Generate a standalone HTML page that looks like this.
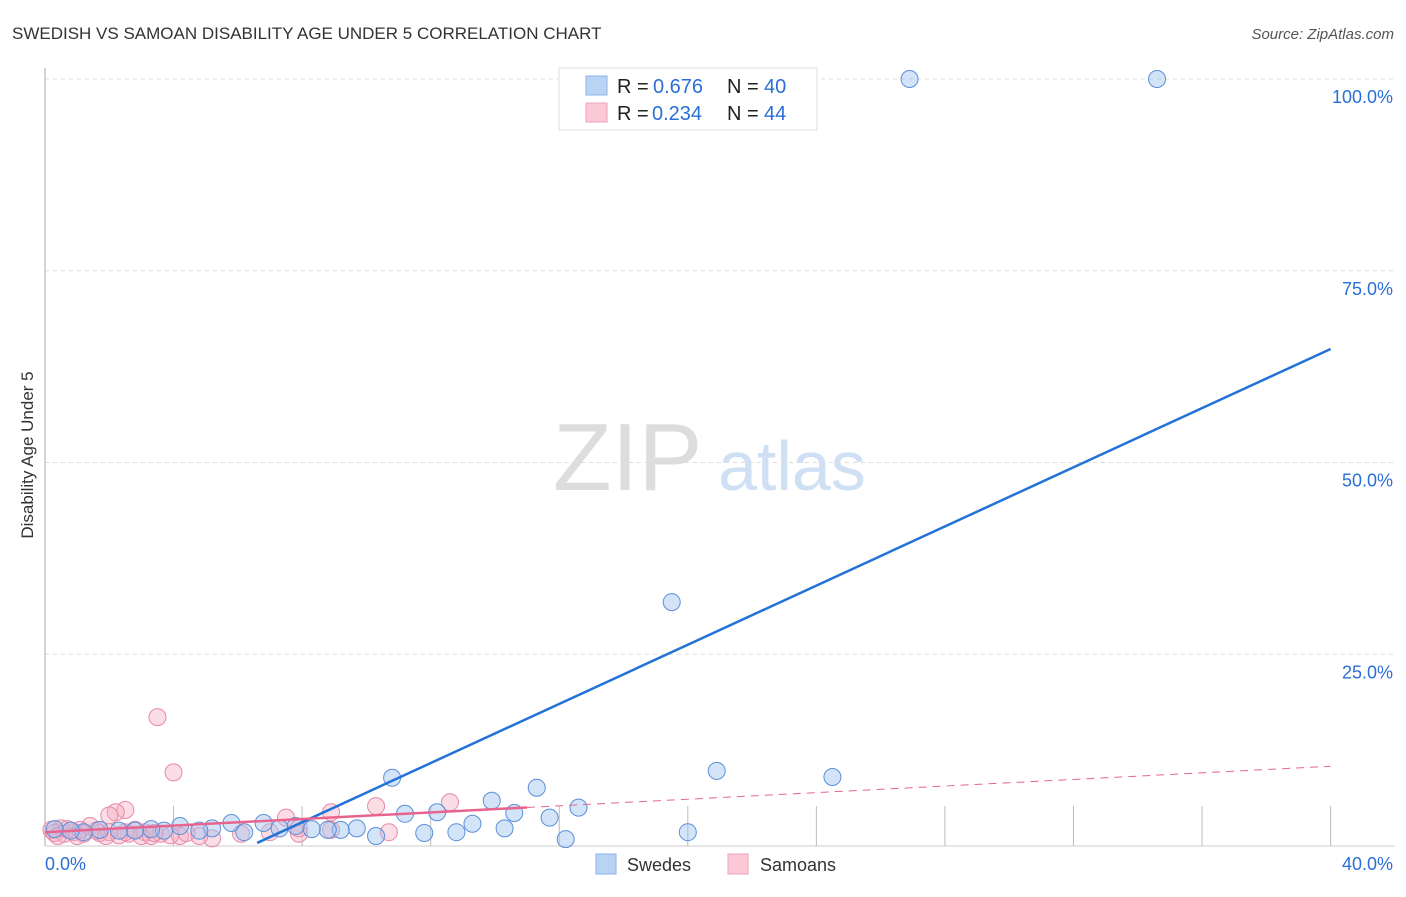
<!DOCTYPE html>
<html><head><meta charset="utf-8"><style>
body{margin:0;background:#fff;font-family:"Liberation Sans",sans-serif;}
svg text{font-family:"Liberation Sans",sans-serif;}
</style></head><body>
<svg id="chart" width="1406" height="892">
<text x="12" y="39" font-size="17" fill="#333">SWEDISH VS SAMOAN DISABILITY AGE UNDER 5 CORRELATION CHART</text>
<text x="1394" y="39" font-size="15" fill="#555" text-anchor="end" font-style="italic">Source: ZipAtlas.com</text>
<text x="0" y="0" font-size="17" fill="#333" text-anchor="middle" transform="translate(33,455) rotate(-90)">Disability Age Under 5</text>
<text x="553" y="490" font-size="96" fill="#ddd" font-family="Liberation Serif">ZIP</text>
<text x="718" y="490" font-size="70" fill="#cfe0f4">atlas</text>
<g id="grid"></g><g id="pts"></g><g id="lines"></g>
<g>
<rect x="559" y="68" width="258" height="62" fill="#fff" stroke="#ddd"/>
<rect x="586" y="76" width="21" height="19" fill="#b9d3f5" stroke="#8fb3e6"/>
<rect x="586" y="103" width="21" height="19" fill="#fbc9d7" stroke="#eea3b9"/>
<text y="93" font-size="20"><tspan x="617" fill="#222">R = </tspan><tspan x="653" fill="#2a6fd6">0.676</tspan><tspan x="727" fill="#222">N = </tspan><tspan x="764" fill="#2a6fd6">40</tspan></text>
<text y="120" font-size="20"><tspan x="617" fill="#222">R = </tspan><tspan x="652" fill="#2a6fd6">0.234</tspan><tspan x="727" fill="#222">N = </tspan><tspan x="764" fill="#2a6fd6">44</tspan></text>
</g>
<rect x="596" y="854" width="20" height="20" fill="#b9d3f5" stroke="#8fb3e6"/>
<text x="627" y="871" font-size="18" fill="#333">Swedes</text>
<rect x="728" y="854" width="20" height="20" fill="#fbc9d7" stroke="#eea3b9"/>
<text x="760" y="871" font-size="18" fill="#333">Samoans</text>
</svg>
<script>
const blueX=[26.9,34.6,19.5,20.9,24.5,10.8,15.3,13.9,16.6,14.6,12.2,11.2,15.7,13.3,14.3,12.8,11.8,20.0,16.2,10.3,9.7,9.2,8.8,8.3,7.8,7.3,6.8,5.8,5.2,4.8,4.2,3.7,3.3,2.8,2.3,1.7,1.2,0.8,0.3,6.2];
const blueY=[100,100,31.8,9.8,9.0,8.9,7.6,5.9,5.0,4.3,4.4,4.2,3.7,2.9,2.3,1.8,1.7,1.8,0.9,1.3,2.3,2.1,2.1,2.2,2.6,2.3,3.0,3.0,2.3,2.0,2.6,2.0,2.2,2.0,2.0,2.1,1.8,2.0,2.2,1.8];
const pinkX=[3.5,4.0,12.6,10.3,8.9,7.5,2.5,2.2,2.0,1.4,0.5,0.9,0.2,1.7,2.6,3.1,3.6,4.2,5.2,6.1,7.9,8.9,10.7,2.0,0.6,1.2,3.0,3.9,2.3,0.3,1.6,3.3,4.8,7.0,0.4,0.7,1.1,1.9,2.5,2.8,3.4,4.4,7.9,1.0];
const pinkY=[16.8,9.6,5.7,5.2,4.4,3.7,4.7,4.4,4.0,2.6,2.3,1.8,2.1,1.7,1.6,1.8,1.6,1.3,1.0,1.6,1.6,2.1,1.8,1.8,1.6,1.6,1.3,1.4,1.4,1.7,2.0,1.3,1.3,1.8,1.3,2.2,2.1,1.3,1.8,2.1,1.7,1.7,2.3,1.3];
const yTicks=[25,50,75,100];
const yTickLabels=["25.0%","50.0%","75.0%","100.0%"];
const blueTrend=[6.6,0.4,40,64.8];
const pinkTrend=[0,1.8,15,5.2,40,10.4];
const NS='http://www.w3.org/2000/svg';
const X=v=>45+v*32.14, Y=v=>846-v*7.67;
function mk(p,t,a){const e=document.createElementNS(NS,t);for(const k in a)e.setAttribute(k,a[k]);p.appendChild(e);return e;}
const grid=document.getElementById('grid');
yTicks.forEach((t,i)=>{
 const l=mk(grid,'line',{x1:45,x2:1395,y1:Y(t),y2:Y(t),stroke:'#ddd','stroke-dasharray':'4,4'});
 
 
 const tx=mk(grid,'text',{x:1393,y:Y(t)+24,'font-size':18,fill:'#2a6fd6','text-anchor':'end'});tx.textContent=yTickLabels[i];
 
 
});
mk(grid,'line',{x1:45,x2:45,y1:68,y2:846,stroke:'#aaa'});
mk(grid,'line',{x1:45,x2:1395,y1:846,y2:846,stroke:'#ccc'});
for(let i=1;i<=10;i++){const t=mk(grid,'line',{x1:X(i*4),x2:X(i*4),y1:806,y2:846,stroke:'#bbb'});
 
 }
const xl=mk(grid,'text',{x:45,y:870,'font-size':18,fill:'#2a6fd6'});xl.textContent='0.0%';


const xr=mk(grid,'text',{x:1393,y:870,'font-size':18,fill:'#2a6fd6','text-anchor':'end'});xr.textContent='40.0%';


const pts=document.getElementById('pts');
pinkX.forEach((x,i)=>{const c=mk(pts,'circle',{cx:X(x),cy:Y(pinkY[i]),r:8.5,fill:'rgba(244,170,192,0.4)',stroke:'#e88aa6','stroke-width':1});
 
 });
blueX.forEach((x,i)=>{const c=mk(pts,'circle',{cx:X(x),cy:Y(blueY[i]),r:8.5,fill:'rgba(160,195,240,0.45)',stroke:'#5b8fd8','stroke-width':1});
 
 });
const lines=document.getElementById('lines');
const bl=mk(lines,'line',{x1:X(blueTrend[0]),y1:Y(blueTrend[1]),x2:X(blueTrend[2]),y2:Y(blueTrend[3]),stroke:'#2272d8','stroke-width':2.5});


const py=x=>pinkTrend[1]+(pinkTrend[5]-pinkTrend[1])*(x-pinkTrend[0])/(pinkTrend[4]-pinkTrend[0]);
const ps=mk(lines,'line',{x1:X(pinkTrend[0]),y1:Y(py(pinkTrend[0])),x2:X(pinkTrend[2]),y2:Y(py(pinkTrend[2])),stroke:'#e8648e','stroke-width':2.5});


const pd=mk(lines,'line',{x1:X(pinkTrend[2]),y1:Y(py(pinkTrend[2])),x2:X(pinkTrend[4]),y2:Y(py(pinkTrend[4])),stroke:'#e8648e','stroke-width':1,'stroke-dasharray':'8,6'});


</script>
</body></html>
